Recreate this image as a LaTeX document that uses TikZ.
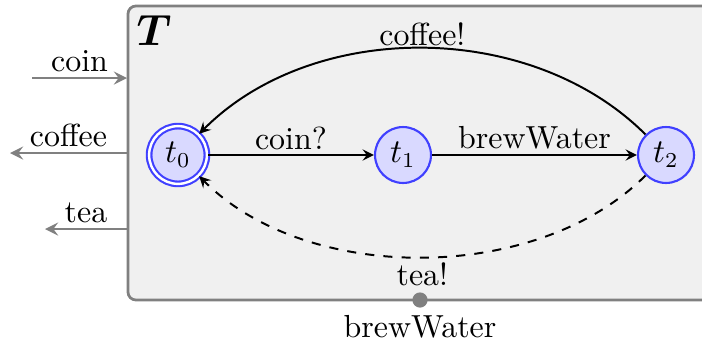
\documentclass[tikz,border=0pt]{standalone}
\usepackage{amsmath}
\usepackage{fontspec}
\begin{document}
\begin{tikzpicture}[x=0.329pt,y=-0.329pt, every node/.style={font=\fontsize{10.5}{12}\selectfont}]

% definitions
\tikzstyle{component} = [rectangle, draw=gray, fill=gray!12, line width=0.9pt, rounded corners=2.6pt]

\tikzstyle{location} = [circle, minimum size=18.4pt, inner sep=0pt, draw=blue!75, fill=blue!15, line width=0.7pt]

\tikzstyle{startlocation} = [location, double=white, double distance=0.8pt, minimum size=19pt]

\tikzstyle{port} = [circle, minimum size=5pt, inner sep=0pt, fill=gray]

\tikzstyle{arrow} = [->,>=stealth, line width=0.65pt]

\tikzstyle{portarrow} = [->,>=stealth, draw=gray, line width=0.9pt]

\tikzstyle{lbl} = [inner sep=1.5pt, text=black]

\useasboundingbox (0,0) rectangle (702,345);
\clip (0,0) rectangle (702,345);

% the component
\draw [component] (128,6) rectangle (730,300);
\node (title) at (154,30) {\Large $\boldsymbol{T}$};

% the graph
\node (t0) [startlocation] at (178,155) {$t_0$};

\node (t1) [location] at (403,155) {$t_1$};

\node (t2) [location] at (666,155) {$t_2$};

\draw [arrow] (t0) -- node[lbl, above] {coin?} (t1);
\draw [arrow] (t1) -- node[lbl, above] {brewWater} (t2);
\draw [arrow] (t2) to [out=135, in=45, looseness=0.93] node[lbl, above, inner sep=0.5pt] {coffee!} (t0);
\draw [arrow, dashed] (t2) to [out=-135, in=-45, looseness=0.88] node[lbl, below] {tea!} (t0);

% the ports
\coordinate (coinA) at (32,78);
\coordinate (coinB) at (127,78);
\coordinate (coffeeA) at (127,153);
\coordinate (coffeeB) at (10,153);
\coordinate (teaA) at (127,229);
\coordinate (teaB) at (45,229);

\draw [portarrow] (coinA) -- node[lbl, above] {coin} (coinB);
\draw [portarrow] (coffeeA) -- node[lbl, above] {coffee} (coffeeB);
\draw [portarrow] (teaA) -- node[lbl, above] {tea} (teaB);

\node (brew) [port] at (420,300) {};
\node (brewlabel) at (420,327) {brewWater};

\end{tikzpicture}
\end{document}
